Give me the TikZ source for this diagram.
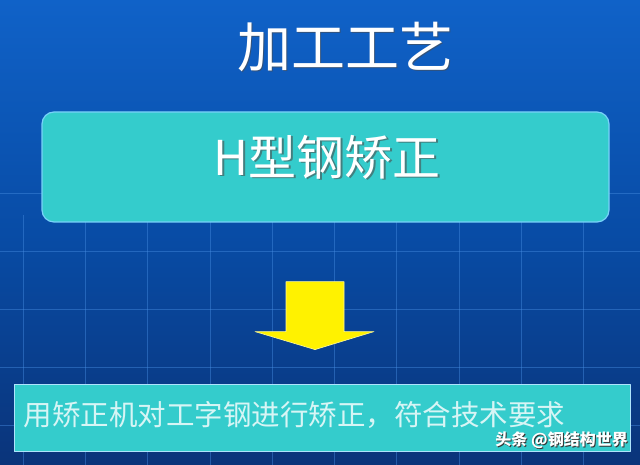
\documentclass[tikz,border=0pt]{standalone}
\usepackage{fontspec}
\newfontfamily\cjk{Noto Sans CJK SC}
\usetikzlibrary{positioning,calc}
\definecolor{bgtop}{RGB}{16,98,200}
\definecolor{bgmid}{RGB}{8,76,166}
\definecolor{bgbot}{RGB}{10,52,122}
\definecolor{gridblue}{RGB}{70,140,225}
\definecolor{turq}{RGB}{52,204,204}
\definecolor{rimblue}{RGB}{120,210,250}
\definecolor{paletext}{RGB}{215,245,245}

\begin{document}
\begin{tikzpicture}[x=1pt, y=1pt, line join=round,
  gridline/.style={gridblue, line width=1pt, opacity=0.45},
  stepbox/.style={draw=rimblue, fill=turq, line width=1.2pt, inner sep=0pt},
  shadowtext/.style={font=\cjk, text=black!70, opacity=0.6, inner sep=0pt},
  lighttext/.style={font=\cjk, text=white, inner sep=0pt}]

% --- Parameters (pt) ---
\def\W{640}   % width
\def\H{465}   % height

% --- Background ---
\useasboundingbox (0,0) rectangle (\W,\H);
\shade[top color=bgtop, bottom color=bgmid] (0,\H) rectangle (\W,232);
\shade[top color=bgmid, bottom color=bgbot] (0,232) rectangle (\W,0);

% --- Grid ---
\foreach \gx in {23,85,147,210,272,334,396,459,521,583}
  \draw[gridline] (\gx,0) -- (\gx,250);
\foreach \gy in {39,97,155,213,271}
  \draw[gridline] (0,\gy) -- (\W,\gy);

% --- Title ---
\node[shadowtext, font=\cjk\fontsize{54}{54}\selectfont] at (346.5,416.5) {加工工艺};
\node[lighttext, font=\cjk\fontsize{54}{54}\selectfont] (title) at (345,418) {加工工艺};

% --- Upper box ---
\node[stepbox, rounded corners=12pt, minimum width=567pt, minimum height=110pt]
  (hbox) at (325.5,298) {};
\node[shadowtext, font=\cjk\fontsize{48}{48}\selectfont] at ([xshift=3.3pt, yshift=8.2pt]hbox.center)
  {H型钢矫正};
\node[lighttext, font=\cjk\fontsize{48}{48}\selectfont] (hlabel) at ([xshift=1.5pt, yshift=10pt]hbox.center)
  {H型钢矫正};

% --- Lower box ---
\node[stepbox, draw=rimblue!60!white, line width=1pt, minimum width=616pt, minimum height=67pt]
  (tbox) at (322,46.5) {};
\node[font=\cjk\fontsize{28.5}{28.5}\selectfont, text=paletext, inner sep=0pt,
  anchor=west] (tlabel) at ([xshift=10pt, yshift=4pt]tbox.west)
  {用矫正机对工字钢进行矫正，符合技术要求};

% --- Arrow between boxes ---
\coordinate (atop) at ($(hbox.south)+(-10.5,-59)$);
\fill[yellow, draw=yellow!40!white, line width=0.6pt]
  (atop) ++(-29,0) coordinate (al) -- ++(58,0) -- ++(0,-50) -- ++(30,0)
  -- ++(-59,-18) coordinate (atip) -- ++(-60,18) -- ++(31,0) -- cycle;

% --- Watermark ---
\node[font=\cjk\fontsize{16}{16}\selectfont\bfseries, text=black!80, inner sep=0pt,
  anchor=east] at (629,24) {头条 @钢结构世界};
\node[font=\cjk\fontsize{16}{16}\selectfont\bfseries, text=white, inner sep=0pt,
  anchor=east] (mark) at (628,25) {头条 @钢结构世界};

\end{tikzpicture}
\end{document}
